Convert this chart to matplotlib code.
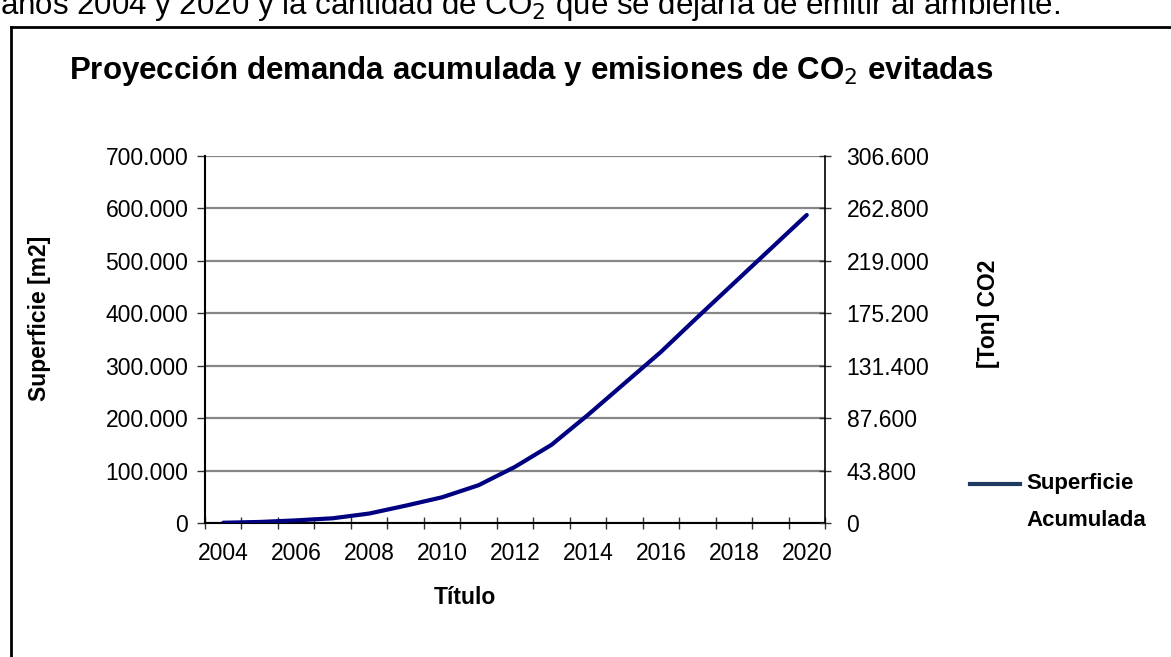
import numpy as np
import matplotlib
matplotlib.use("Agg")
import matplotlib.pyplot as plt
from matplotlib.lines import Line2D
from matplotlib.ticker import FixedLocator, FuncFormatter

# Cumulative surface projection (m2) per year
years = list(range(2004, 2021))
superficie = [500, 2000, 5000, 9000, 18000, 33000, 49000, 72000, 107000,
              149000, 206000, 266000, 326000, 392000, 457000, 522000, 587000]

left_ticks = [0, 100000, 200000, 300000, 400000, 500000, 600000, 700000]
right_ticks = [0, 43800, 87600, 131400, 175200, 219000, 262800, 306600]

bold = ['Liberation Sans Narrow', 'Liberation Sans', 'DejaVu Sans']
regular = ['Liberation Sans', 'DejaVu Sans']


def miles(v, pos=None):
    return f"{v:,.0f}".replace(",", ".")


fig = plt.figure(figsize=(11.71, 6.57), dpi=100)

# page text above the chart frame (cut by the top edge)
fig.text(0.0, 1 - 14 / 657, "años 2004 y 2020 y la cantidad de CO$_2$ que se dejaría de emitir al ambiente.",
         fontsize=22.5, family=regular, va='baseline', ha='left')

# chart frame
fig.add_artist(Line2D([10.5 / 1171, 10.5 / 1171], [0, 1 - 27 / 657], color='black', lw=2))
fig.add_artist(Line2D([10.5 / 1171, 1], [1 - 27 / 657, 1 - 27 / 657], color='black', lw=2))

ax = fig.add_axes([205 / 1171, 1 - 523 / 657, 620 / 1171, (523 - 155.7) / 657])
x = np.arange(len(years))
ax.plot(x, superficie, color='#000080', lw=3, solid_capstyle='round', zorder=3)

ax.set_xlim(-0.5, len(years) - 0.5)
ax.set_ylim(0, 700000)
ax.yaxis.set_major_locator(FixedLocator(left_ticks))
ax.yaxis.set_major_formatter(FuncFormatter(miles))
ax.grid(axis='y', color='#868686', lw=1.6)
ax.set_axisbelow(True)

ax.set_xticks(x[::2])
ax.set_xticklabels([str(y) for y in years[::2]])
ax.set_xticks(np.arange(-0.5, len(years)), minor=True)
ax.tick_params(axis='x', which='major', length=0, pad=14, labelsize=16.5)
ax.tick_params(axis='x', which='minor', direction='inout', length=9, width=1, color='#333333')
ax.tick_params(axis='y', direction='out', length=6, width=1, color='#333333', labelsize=16.5, pad=6)
for lab in ax.get_xticklabels() + ax.get_yticklabels():
    lab.set_family(regular)

ax.spines['top'].set_visible(False)
ax.spines['right'].set_visible(False)
ax.spines['left'].set_linewidth(1.5)
ax.spines['bottom'].set_linewidth(1.5)

ax2 = ax.twinx()
ax2.set_ylim(0, 306600)
ax2.yaxis.set_major_locator(FixedLocator(right_ticks))
ax2.yaxis.set_major_formatter(FuncFormatter(miles))
ax2.tick_params(axis='y', direction='inout', length=9, width=1, color='#333333', labelsize=16.5, pad=11)
for lab in ax2.get_yticklabels():
    lab.set_family(regular)
for s in ['top', 'left', 'bottom']:
    ax2.spines[s].set_visible(False)
ax2.spines['right'].set_linewidth(1.2)

fig.text(531 / 1171, 1 - 71 / 657, "Proyección demanda acumulada y emisiones de CO$_2$ evitadas",
         fontsize=22.5, fontweight='bold', family=bold, ha='center', va='center')
fig.text(40 / 1171, 1 - 318 / 657, "Superficie [m2]", rotation=90, fontsize=16.5,
         fontweight='bold', family=bold, ha='center', va='center')
fig.text(988 / 1171, 1 - 314 / 657, "[Ton] CO2", rotation=90, fontsize=16.5,
         fontweight='bold', family=bold, ha='center', va='center')
fig.text(465 / 1171, 1 - 598 / 657, "Título", fontsize=16.5,
         fontweight='bold', family=bold, ha='center', va='center')

# legend
fig.add_artist(Line2D([970 / 1171, 1020 / 1171], [1 - 484 / 657, 1 - 484 / 657],
                      color='#1F3A60', lw=3))
fig.text(1026 / 1171, 1 - 484 / 657, "Superficie", fontsize=16, fontweight='bold',
         family=bold, ha='left', va='center')
fig.text(1026 / 1171, 1 - 520 / 657, "Acumulada", fontsize=16, fontweight='bold',
         family=bold, ha='left', va='center')

fig.savefig("out.png", dpi=100)
